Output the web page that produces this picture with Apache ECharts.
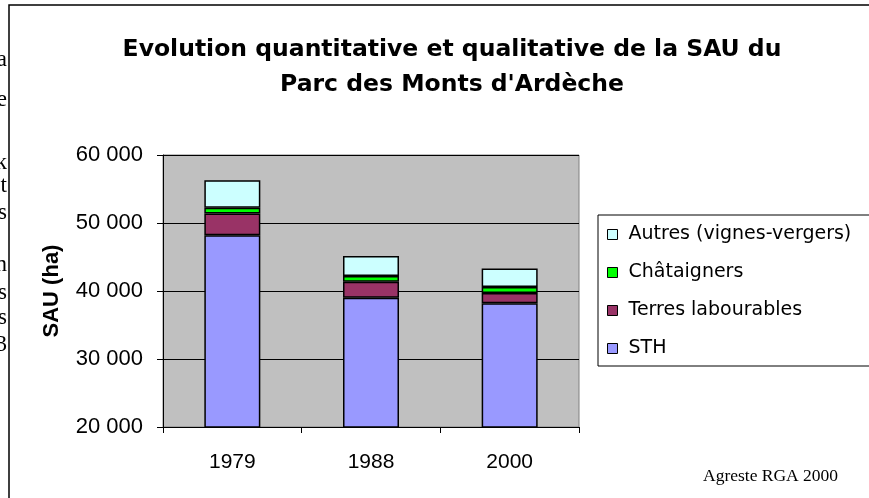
<!DOCTYPE html>
<html>
<head>
<meta charset="utf-8">
<script src="https://cdn.jsdelivr.net/npm/echarts@6/dist/echarts.min.js"></script>
<style>
  html, body { margin: 0; padding: 0; background: #fff; }
  #chart { width: 869px; height: 498px; }
</style>
</head>
<body>
<div id="chart"></div>
<script>
// valeurs (ha)
var years = ['1979', '1988', '2000'];
var sth = [48200, 39000, 38200];
var terres = [3200, 2350, 1500];
var chataigners = [850, 850, 900];
var autres = [4050, 2950, 2700];

var yTicks = [20000, 30000, 40000, 50000, 60000];
var legendOrder = ['Autres (vignes-vergers)', 'Châtaigners', 'Terres labourables', 'STH'];

// bouts de texte coupés à gauche de l'image
var strayChars = [['a', 60], ['e', 100], ['k', 163], ['t', 186], ['s', 213], ['n', 265], ['s', 293], ['s', 318], ['3', 345]];

var myChart = echarts.init(document.getElementById('chart'));

function fmt(v) {
  return String(v).replace(/\B(?=(\d{3})+(?!\d))/g, ' ');
}

function barSerie(name, data, color) {
  return {
    name: name,
    type: 'bar',
    stack: 'sau',
    data: data,
    barWidth: 56,
    itemStyle: { color: color, borderColor: '#000', borderWidth: 1.5 }
  };
}

var graphics = [{
  type: 'rect',
  shape: { x: 9, y: 5, width: 900, height: 520 },
  style: { fill: 'none', stroke: '#000', lineWidth: 1.5 },
  silent: true
}, {
  type: 'text',
  left: 703,
  top: 467,
  style: { text: 'Agreste RGA 2000', font: '17.5px "Liberation Serif"', fill: '#000' }
}];
strayChars.forEach(function (c) {
  graphics.push({
    type: 'text',
    x: 7,
    y: c[1],
    style: { text: c[0], font: '23px "Liberation Serif"', fill: '#000', align: 'right', verticalAlign: 'middle' }
  });
});

var option = {
  backgroundColor: '#fff',
  animation: false,
  title: {
    text: 'Evolution quantitative et qualitative de la SAU du\nParc des Monts d\'Ardèche',
    left: 447,
    top: 27,
    textAlign: 'center',
    textStyle: { fontFamily: 'DejaVu Sans', fontWeight: 'bold', fontSize: 23.5, lineHeight: 35, color: '#000' }
  },
  grid: {
    left: 163, right: 290, top: 155, bottom: 71,
    show: true, backgroundColor: '#c0c0c0', borderColor: '#808080', borderWidth: 1
  },
  legend: {
    data: legendOrder,
    orient: 'vertical',
    left: 598,
    top: 215,
    padding: [10, 40, 8, 9],
    itemGap: 19,
    itemWidth: 10,
    itemHeight: 10,
    icon: 'rect',
    backgroundColor: '#fff',
    borderColor: '#000',
    borderWidth: 1,
    itemStyle: { borderColor: '#000', borderWidth: 1 },
    textStyle: { fontFamily: 'DejaVu Sans', fontSize: 19, color: '#000', padding: [0, 0, 0, 6] }
  },
  xAxis: {
    type: 'category',
    data: years,
    axisLine: { lineStyle: { color: '#000', width: 1 } },
    axisTick: { show: true, length: 6, lineStyle: { color: '#000' } },
    axisLabel: { fontFamily: 'Liberation Sans', fontSize: 21, color: '#000', margin: 25 }
  },
  yAxis: {
    type: 'value',
    min: yTicks[0],
    max: yTicks[yTicks.length - 1],
    interval: 10000,
    name: 'SAU (ha)',
    nameLocation: 'middle',
    nameRotate: 90,
    nameGap: 100,
    nameTextStyle: { fontFamily: 'Liberation Sans', fontWeight: 'bold', fontSize: 22, color: '#000' },
    axisLine: { show: true, lineStyle: { color: '#000', width: 1 } },
    axisTick: { show: true, length: 6, lineStyle: { color: '#000' } },
    axisLabel: { fontFamily: 'Liberation Sans', fontSize: 22, color: '#000', margin: 20, formatter: fmt },
    splitLine: { lineStyle: { color: '#000', width: 1 } }
  },
  graphic: graphics,
  series: [
    barSerie('STH', sth, '#9999ff'),
    barSerie('Terres labourables', terres, '#993366'),
    barSerie('Châtaigners', chataigners, '#00ff00'),
    barSerie('Autres (vignes-vergers)', autres, '#ccffff')
  ]
};

myChart.setOption(option);
</script>
</body>
</html>
